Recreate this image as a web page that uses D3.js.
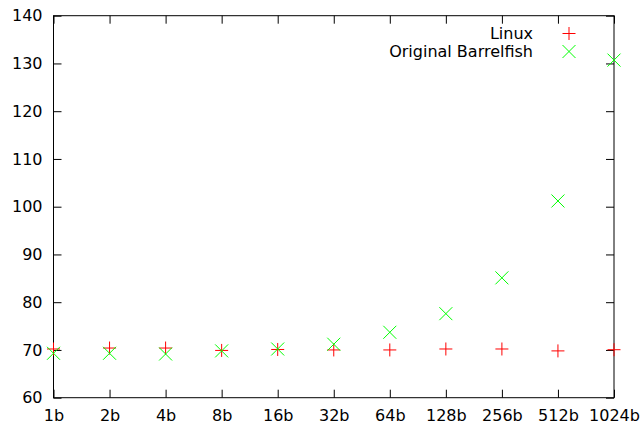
<!DOCTYPE html>
<html><head><meta charset="utf-8">
<script src="https://cdn.jsdelivr.net/npm/d3@7"></script>
<style>body{margin:0;background:#fff}svg{display:block}text{font-family:"DejaVu Sans",sans-serif;font-size:16px;fill:#000}</style>
</head><body>
<script>
const categories = ["1b","2b","4b","8b","16b","32b","64b","128b","256b","512b","1024b"];
const linux = [70.2,70.4,70.4,69.9,70.1,70.0,70.0,70.2,70.2,69.8,70.05];
const barrelfish = [69.3,69.3,69.15,69.8,70.2,71.2,73.7,77.6,85.1,101.2,130.7];
const yTicks = [60,70,80,90,100,110,120,130,140];
const seriesNames = ["Linux","Original Barrelfish"];

const W=641,H=425, L=53.5, R=614, T=15.7, B=397.7;
const svg=d3.select("body").append("svg").attr("width",W).attr("height",H);
const x=d3.scalePoint().domain(categories).range([L,R]);
const y=d3.scaleLinear().domain([60,140]).range([B,T]);

// axes
const gl=svg.append("g").attr("transform",`translate(${L},0)`).call(d3.axisLeft(y).tickValues(yTicks).tickSize(-8).tickPadding(11).tickFormat(d3.format("d")));
const gr=svg.append("g").attr("transform",`translate(${R},0)`).call(d3.axisRight(y).tickValues(yTicks).tickSize(-8).tickFormat(""));
const gb=svg.append("g").attr("transform",`translate(0,${B})`).call(d3.axisBottom(x).tickSize(-8).tickPadding(12));
const gt=svg.append("g").attr("transform",`translate(0,${T})`).call(d3.axisTop(x).tickSize(-8).tickFormat(""));
[gl,gr,gb,gt].forEach(g=>{g.select(".domain").remove();g.attr("font-size",null).attr("font-family",null);g.selectAll("line").attr("stroke","#000");g.selectAll("text").attr("fill","#000");});
svg.append("rect").attr("x",L).attr("y",T).attr("width",R-L).attr("height",B-T).attr("fill","none").attr("stroke","#000");

const s=6.5;
function plus(g,cx,cy){g.append("path").attr("d",`M${cx-s},${cy}H${cx+s}M${cx},${cy-s}V${cy+s}`).attr("stroke","#ff0000").attr("fill","none");}
function cross(g,cx,cy){g.append("path").attr("d",`M${cx-s},${cy-s}L${cx+s},${cy+s}M${cx-s},${cy+s}L${cx+s},${cy-s}`).attr("stroke","#00ff00").attr("fill","none");}
const pts=svg.append("g");
categories.forEach((c,i)=>plus(pts,x(c),y(linux[i])));
categories.forEach((c,i)=>cross(pts,x(c),y(barrelfish[i])));

// legend
const lg=svg.append("g");
lg.append("text").attr("x",533).attr("y",38.5).attr("text-anchor","end").text(seriesNames[0]);
plus(lg,569,33.5);
lg.append("text").attr("x",533).attr("y",56.5).attr("text-anchor","end").text(seriesNames[1]);
cross(lg,569,51.5);
</script>
</body></html>
